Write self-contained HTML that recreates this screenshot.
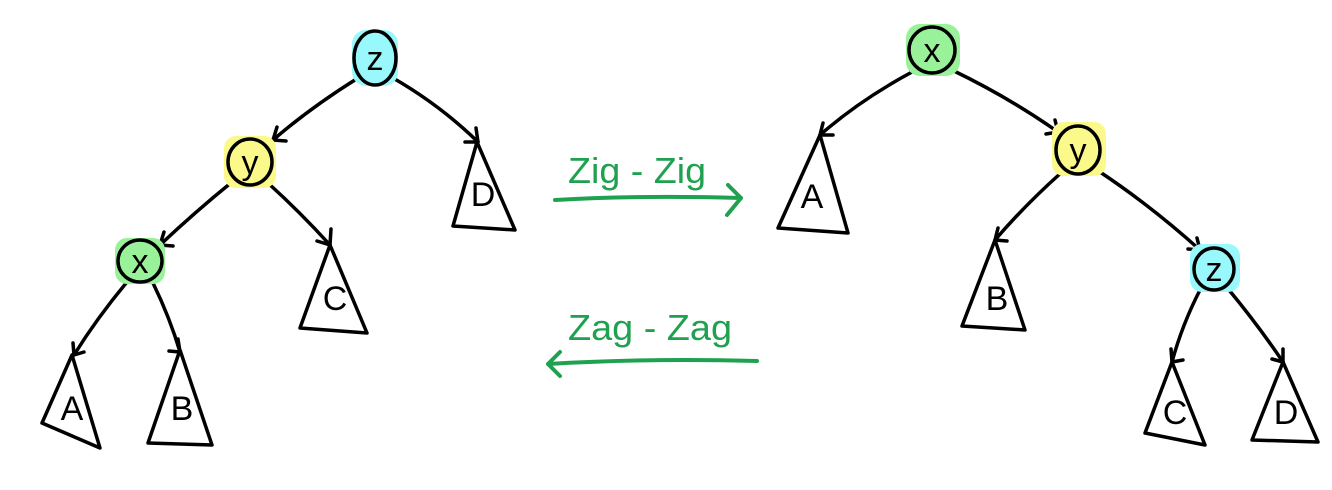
<!DOCTYPE html>
<html><head><meta charset="utf-8"><style>
html,body{margin:0;padding:0;background:#fff;}
svg{display:block;}
text{font-family:"Liberation Sans",sans-serif;}
</style></head><body>
<svg width="1332" height="490" viewBox="0 0 1332 490" xmlns="http://www.w3.org/2000/svg">
<g fill="none" stroke="#000" stroke-width="3.5" stroke-linecap="round" stroke-linejoin="round">
<g>
<path d="M358 78 Q310 108 273 140"/><path d="M273 140 l4 -13 M273 140 l13 1"/>
<path d="M393 78 Q440 105 478 142"/><path d="M478 142 l-2 -14 M478 142 l-13 0"/>
<path d="M232 182 Q195 212 160 245"/><path d="M160 245 l4 -13 M160 245 l13 1"/>
<path d="M268 183 Q300 212 330 245"/><path d="M330 245 l1 -16 M330 245 l-13 -4"/>
<path d="M127 282 Q97 318 74 355"/><path d="M74 355 l-1 -12 M74 355 l10 -3"/>
<path d="M153 283 Q170 318 180 352"/><path d="M180 352 l-2 -13 M180 352 l-11 -1"/>
</g>
<g>
<path d="M477 142 L515 230 L453 226 Z"/>
<path d="M330 245 L367 333 L300 328 Z"/>
<path d="M72 355 L100 448 L42 423 Z"/>
<path d="M180 350 L212 445 L148 443 Z"/>
</g>
<g>
<path d="M912 72 Q860 100 820 135"/><path d="M820 135 l3 -12 M820 135 l13 0"/>
<path d="M952 70 Q1010 98 1058 132"/><path d="M1058 132 l-3 -12 M1058 132 l-12 2"/>
<path d="M1062 172 Q1025 205 995 240"/><path d="M995 240 l3 -12 M995 240 l12 1"/>
<path d="M1097 170 Q1150 205 1200 250"/><path d="M1200 250 l-3 -12 M1200 250 l-12 -1"/>
<path d="M1200 290 Q1182 325 1172 362"/><path d="M1172 362 l-1 -13 M1172 362 l11 -2"/>
<path d="M1229 290 Q1258 325 1283 362"/><path d="M1283 362 l0 -13 M1283 362 l-11 -3"/>
</g>
<g>
<path d="M820 135 L848 233 L778 228 Z"/>
<path d="M995 240 L1025 330 L962 326 Z"/>
<path d="M1172 362 L1205 445 L1145 433 Z"/>
<path d="M1283 362 L1318 442 L1252 440 Z"/>
</g>
</g>
<g stroke="#000" stroke-width="3.5">
<rect x="352" y="30" width="46" height="56" rx="14" fill="#99f8fb" stroke="none"/>
<ellipse cx="375" cy="58" rx="21" ry="27" fill="#99f8fb"/>
<rect x="224" y="136" width="52" height="52" rx="12" fill="#fbf98a" stroke="none"/>
<ellipse cx="250" cy="162" rx="22" ry="23" fill="#fbf98a"/>
<rect x="115" y="238" width="50" height="46" rx="12" fill="#99f299" stroke="none"/>
<ellipse cx="140" cy="261" rx="22" ry="21" fill="#99f299"/>
<rect x="906" y="24" width="54" height="52" rx="14" fill="#99f299" stroke="none"/>
<ellipse cx="932" cy="50" rx="23" ry="23" fill="#99f299"/>
<rect x="1052" y="122" width="54" height="54" rx="12" fill="#fbf98a" stroke="none"/>
<ellipse cx="1078" cy="150" rx="22" ry="24" fill="#fbf98a"/>
<rect x="1190" y="244" width="50" height="48" rx="12" fill="#99f8fb" stroke="none"/>
<ellipse cx="1214" cy="269" rx="20" ry="21" fill="#99f8fb"/>
</g>
<g font-size="34" text-anchor="middle" fill="#000">
<text x="375" y="70">z</text>
<text x="250" y="174">y</text>
<text x="140" y="273">x</text>
<text x="932" y="62">x</text>
<text x="1078" y="162">y</text>
<text x="1214" y="281">z</text>
<text x="483" y="206">D</text>
<text x="335" y="310">C</text>
<text x="72" y="420">A</text>
<text x="182" y="420">B</text>
<text x="812" y="208">A</text>
<text x="997" y="310">B</text>
<text x="1175" y="424">C</text>
<text x="1286" y="424">D</text>
</g>
<g fill="#1fa14f" font-size="36">
<text x="568" y="183" textLength="138" lengthAdjust="spacingAndGlyphs">Zig - Zig</text>
<text x="568" y="340" textLength="164" lengthAdjust="spacingAndGlyphs">Zag - Zag</text>
</g>
<g fill="none" stroke="#1fa14f" stroke-width="4" stroke-linecap="round" stroke-linejoin="round">
<path d="M555 200 Q640 195 741 198 M728 185 L741 198 L727 215"/>
<path d="M757 361 Q650 358 548 364 M560 352 L548 364 L560 376"/>
</g>
</svg>
</body></html>
